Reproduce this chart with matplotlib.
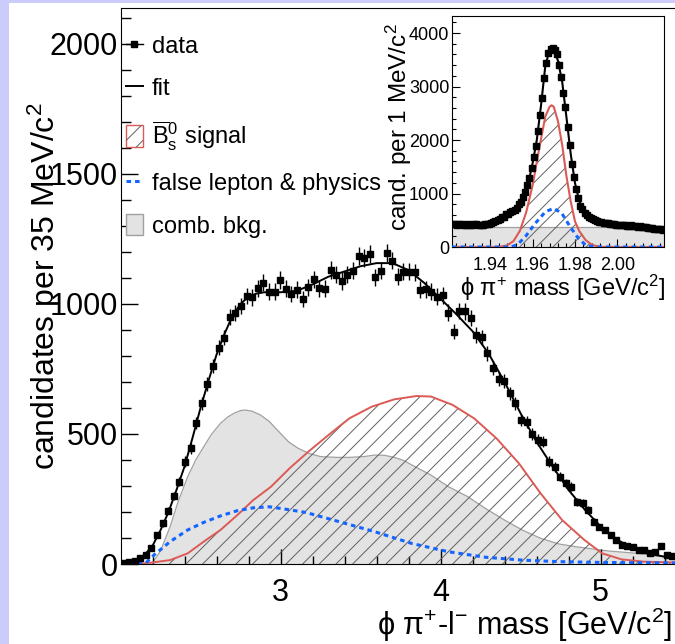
import matplotlib
matplotlib.use('Agg')
import matplotlib.pyplot as plt
import numpy as np
from matplotlib.lines import Line2D
from matplotlib.patches import Patch, Rectangle
from matplotlib.legend_handler import HandlerTuple
from matplotlib.ticker import MultipleLocator, FixedLocator, FormatStrFormatter

plt.rcParams['font.family'] = ['Liberation Sans', 'DejaVu Sans']
plt.rcParams['mathtext.fontset'] = 'custom'
plt.rcParams['mathtext.rm'] = 'Liberation Sans'
plt.rcParams['mathtext.it'] = 'Liberation Sans:italic'
plt.rcParams['mathtext.bf'] = 'Liberation Sans:bold'
plt.rcParams['hatch.linewidth'] = 0.7

RED = '#dc5a55'
BLUE = '#1465ff'
GRAY_FILL = '#e3e3e3'
GRAY_EDGE = '#a0a0a0'
HATCH = '#606060'

# main plot: phi pi+ l- mass, 35 MeV bins starting at 2.0 GeV
bin_lo, bin_w = 2.0, 0.035
counts = [5, 9, 12, 22, 35, 60, 111, 156, 205, 262,
          317, 394, 445, 541, 618, 691, 761, 832, 870, 951,
          964, 992, 1031, 1026, 1060, 1082, 1047, 1047, 1092, 1058,
          1038, 1054, 1019, 1064, 1095, 1060, 1058, 1131, 1112, 1088,
          1112, 1128, 1185, 1176, 1192, 1103, 1128, 1197, 1167, 1105,
          1124, 1124, 1122, 1054, 1056, 1047, 1028, 1033, 967, 894,
          974, 971, 945, 881, 872, 810, 753, 710, 705, 656,
          618, 554, 547, 499, 477, 470, 394, 374, 336, 310,
          297, 240, 233, 208, 163, 143, 131, 112, 92, 73,
          69, 67, 54, 54, 43, 47, 69, 35, 31]

fit_x = [2.0, 2.1, 2.15, 2.2, 2.25, 2.3, 2.35, 2.4, 2.45, 2.5, 2.55, 2.6, 2.65, 2.7, 2.75,
         2.8, 2.85, 2.9, 3.0, 3.1, 3.2, 3.3, 3.4, 3.5, 3.6, 3.7, 3.8, 3.9, 4.0, 4.1, 4.2,
         4.3, 4.4, 4.5, 4.6, 4.7, 4.8, 4.9, 5.0, 5.1, 5.2, 5.3, 5.4, 5.5]
fit_y = [3, 15, 35, 70, 130, 200, 285, 375, 485, 600, 705, 805, 885, 955, 1000,
         1028, 1040, 1045, 1045, 1050, 1075, 1105, 1125, 1145, 1157, 1157, 1130, 1080, 1020, 960, 895,
         810, 700, 580, 470, 375, 285, 210, 145, 95, 60, 40, 28, 22]

bkg_x = [2.0, 2.15, 2.2, 2.25, 2.31, 2.36, 2.42, 2.47, 2.52, 2.57, 2.625, 2.67, 2.71, 2.75,
         2.78, 2.82, 2.875, 2.93, 2.98, 3.05, 3.11, 3.18, 3.25, 3.35, 3.43, 3.52, 3.59, 3.65,
         3.71, 3.77, 3.82, 3.94, 4.05, 4.17, 4.28, 4.40, 4.51, 4.625, 4.74, 4.85, 4.95, 5.05,
         5.15, 5.25, 5.35, 5.5]
bkg_y = [0, 0, 5, 50, 144, 240, 336, 400, 451, 500, 541, 565, 580, 590,
         592, 588, 573, 548, 515, 470, 445, 425, 413, 410, 410, 413, 419, 418,
         410, 398, 381, 342, 297, 259, 214, 169, 131, 99, 77, 66, 58, 50,
         45, 40, 33, 22]

sig_x = [2.0, 2.13, 2.2, 2.31, 2.42, 2.52, 2.625, 2.73, 2.83, 2.94, 3.06, 3.18, 3.30, 3.43,
         3.57, 3.71, 3.85, 3.94, 4.075, 4.21, 4.35, 4.49, 4.625, 4.76, 4.90, 5.01, 5.13, 5.27, 5.5]
sig_y = [0, 2, 6, 15, 41, 86, 131, 188, 246, 297, 370, 435, 496, 560,
         605, 633, 646, 644, 612, 560, 483, 387, 272, 169, 92, 41, 18, 9, 5]

fl_x = [2.0, 2.16, 2.21, 2.31, 2.42, 2.52, 2.625, 2.73, 2.83, 2.93, 3.04, 3.16, 3.365, 3.59,
        3.82, 4.05, 4.28, 4.51, 4.74, 5.0, 5.5]
fl_y = [0, 5, 35, 86, 131, 160, 185, 205, 216, 220, 210, 198, 163, 124,
        79, 47, 26, 15, 9, 6, 4]

# inset: phi pi+ mass, 1 MeV bins starting at 1.922 GeV
ins_lo, ins_w = 1.922, 0.001
ins_counts = [430, 422, 415, 428, 432, 420, 412, 425, 418, 410,
              422, 430, 415, 420, 412, 425, 432, 438, 445, 465,
              490, 505, 530, 560, 570, 610, 625, 660, 665, 700,
              735, 810, 850, 940, 1020, 1160, 1290, 1480, 1690, 1890,
              2160, 2460, 2790, 3160, 3440, 3630, 3710, 3720, 3690, 3610,
              3410, 3170, 2880, 2610, 2240, 1910, 1560, 1300, 1090, 910,
              770, 705, 635, 605, 560, 545, 515, 500, 495, 475,
              470, 455, 450, 440, 438, 430, 425, 420, 415, 412,
              418, 405, 400, 398, 405, 392, 385, 380, 388, 375,
              370, 372, 360, 352, 358, 345, 340, 335, 330, 326]

ins_fit_x = [1.922, 1.930, 1.938, 1.942, 1.945, 1.948, 1.950, 1.952, 1.954, 1.956, 1.958,
             1.960, 1.962, 1.964, 1.966, 1.968, 1.969, 1.970, 1.972, 1.974, 1.976, 1.978,
             1.980, 1.982, 1.984, 1.987, 1.990, 1.995, 2.000, 2.010, 2.022]
ins_fit_y = [425, 420, 428, 470, 540, 610, 660, 700, 800, 960, 1200,
             1560, 2000, 2650, 3380, 3680, 3715, 3700, 3480, 3080, 2420, 1740,
             1200, 860, 660, 540, 490, 445, 420, 385, 330]

ins_sig_x = [1.922, 1.944, 1.948, 1.951, 1.954, 1.957, 1.960, 1.963, 1.966, 1.968, 1.969,
             1.970, 1.972, 1.974, 1.976, 1.978, 1.980, 1.982, 1.985, 1.988, 1.992, 2.022]
ins_sig_y = [0, 0, 30, 110, 300, 650, 1150, 1813, 2436, 2620, 2650,
             2620, 2350, 1900, 1320, 850, 480, 300, 130, 40, 0, 0]

ins_fl_x = [1.922, 1.950, 1.953, 1.9566, 1.9613, 1.9661, 1.970, 1.9738, 1.9777, 1.9816,
            1.9855, 1.990, 2.022]
ins_fl_y = [0, 0, 50, 193, 443, 660, 723, 630, 380, 162, 20, 0, 0]

ins_bkg_x = [1.922, 2.022]
ins_bkg_y = [375, 375]
ins_ticks = [1.94, 1.96, 1.98, 2.00]


def components(ax, bkg, sig, fl, fit, lw=1.4):
    ax.fill_between(bkg[0], 0, bkg[1], color=GRAY_FILL, lw=0, zorder=1)
    ax.plot(bkg[0], bkg[1], color=GRAY_EDGE, lw=0.9, zorder=1.5)
    ax.fill_between(sig[0], 0, sig[1], facecolor='none', edgecolor=HATCH, hatch='//', lw=0, zorder=2)
    ax.plot(sig[0], sig[1], color=RED, lw=lw, zorder=3)
    ax.plot(fl[0], fl[1], color=BLUE, lw=2.2, ls=(0, (1.5, 1.3)), zorder=4)
    ax.plot(fit[0], fit[1], color='k', lw=lw, zorder=5)


W, H = 675, 644
fig = plt.figure(figsize=(W / 100, H / 100), dpi=100, facecolor='#ccccfa')
fig.add_artist(Rectangle((9 / W, 0), 1, 1 - 3 / H, transform=fig.transFigure,
                         facecolor='white', edgecolor='none', zorder=-10))

ax = fig.add_axes([121 / W, 1 - 564 / H, 560 / W, 556.5 / H])
ax.set_facecolor('none')
components(ax, (bkg_x, bkg_y), (sig_x, sig_y), (fl_x, fl_y), (fit_x, fit_y))

centers = bin_lo + bin_w * (np.arange(len(counts)) + 0.5)
ax.errorbar(centers, counts, yerr=np.sqrt(counts), xerr=bin_w / 2, fmt='s', color='k',
            ms=4.8, elinewidth=1, capsize=0, zorder=6)

ax.set_xlim(2.003, 5.503)
ax.set_ylim(0, 2140)
ax.xaxis.set_major_locator(MultipleLocator(1))
ax.xaxis.set_minor_locator(MultipleLocator(0.2))
ax.yaxis.set_major_locator(MultipleLocator(500))
ax.yaxis.set_minor_locator(MultipleLocator(100))
ax.tick_params(axis='both', which='both', direction='in', colors='k', width=1)
ax.tick_params(axis='x', which='major', length=11, pad=10, labelsize=22)
ax.tick_params(axis='x', which='minor', length=6)
ax.tick_params(axis='y', which='major', length=12, pad=2, labelsize=22)
ax.tick_params(axis='y', which='minor', length=7)
ax.spines['right'].set_visible(False)

ax.set_ylabel('candidates per 35 MeV/c$^{2}$', fontsize=23)
ax.yaxis.set_label_coords(-0.101, 0.50)
ax.set_xlabel('ϕ π$^{+}$-l$^{-}$ mass [GeV/c$^{2}$]', fontsize=22, ha='right')
ax.xaxis.set_label_coords(0.984, -0.075)

h_data = Line2D([], [], color='k', marker='s', ms=4.5, lw=1)
h_fit = Line2D([], [], color='k', lw=1.4)
h_sig = (Patch(facecolor='white', edgecolor=RED, lw=1),
         Patch(facecolor='none', edgecolor=HATCH, hatch='//', lw=0))
h_fl = Line2D([], [], color=BLUE, lw=2.2, ls=(0, (1.5, 1.3)))
h_bkg = Patch(facecolor=GRAY_FILL, edgecolor=GRAY_EDGE, lw=1)
ax.legend([h_data, h_fit, h_sig, h_fl, h_bkg],
          ['data', 'fit', r'$\overline{\mathrm{B}}{}^{0}_{\mathrm{s}}$ signal',
           'false lepton & physics', 'comb. bkg.'],
          handler_map={tuple: HandlerTuple(ndivide=1)},
          loc='upper left', bbox_to_anchor=(0.009, 0.952), frameon=False, fontsize=17,
          handlelength=0.7, handleheight=1.0, handletextpad=0.4, labelspacing=0.8,
          borderpad=0, borderaxespad=0)

# inset
axin = fig.add_axes([452 / W, 1 - 247 / H, 212 / W, 231 / H])
axin.set_zorder(10)
axin.set_facecolor('white')
components(axin, (ins_bkg_x, ins_bkg_y), (ins_sig_x, ins_sig_y), (ins_fl_x, ins_fl_y),
           (ins_fit_x, ins_fit_y), lw=1.5)
ins_centers = ins_lo + ins_w * (np.arange(len(ins_counts)) + 0.5)
axin.errorbar(ins_centers, ins_counts, yerr=np.sqrt(ins_counts), fmt='s', color='k',
              ms=3.8, elinewidth=0.8, capsize=0, zorder=6)
axin.set_xlim(1.922, 2.022)
axin.set_ylim(0, 4318)
axin.xaxis.set_major_locator(FixedLocator(ins_ticks))
axin.xaxis.set_minor_locator(MultipleLocator(0.004))
axin.xaxis.set_major_formatter(FormatStrFormatter('%.2f'))
axin.yaxis.set_major_locator(MultipleLocator(1000))
axin.yaxis.set_minor_locator(MultipleLocator(200))
axin.tick_params(axis='both', which='both', direction='in', width=0.8, labelsize=13)
axin.tick_params(axis='both', which='major', length=6)
axin.tick_params(axis='both', which='minor', length=3)
axin.tick_params(axis='x', which='major', pad=7)
axin.tick_params(axis='y', which='major', pad=2)
axin.set_ylabel('cand. per 1 MeV/c$^{2}$', fontsize=17.5)
axin.yaxis.set_label_coords(-0.178, 0.52)
axin.set_xlabel('ϕ π$^{+}$ mass [GeV/c$^{2}$]', fontsize=17, ha='right')
axin.xaxis.set_label_coords(1.005, -0.112)

fig.savefig('out.png', dpi=100, facecolor=fig.get_facecolor())
